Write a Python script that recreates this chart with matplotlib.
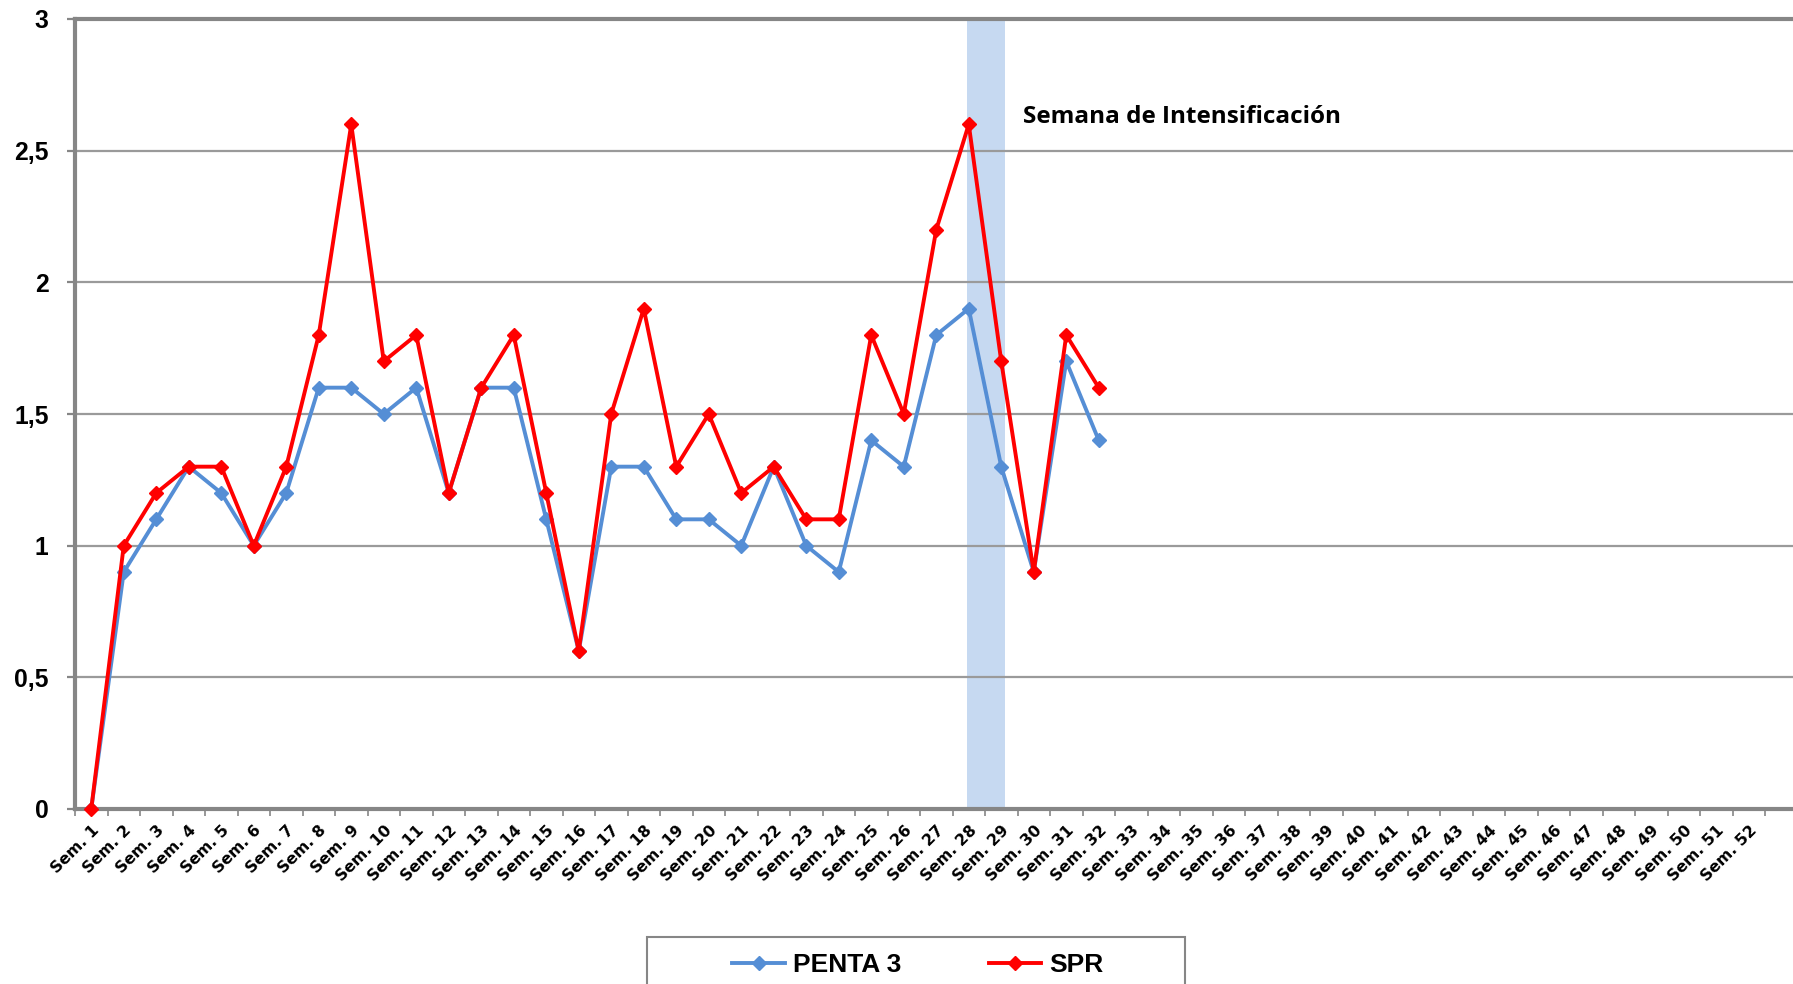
import matplotlib
matplotlib.use("Agg")
import matplotlib.pyplot as plt
import matplotlib.patches as mpatches
from matplotlib.ticker import FixedLocator, FixedFormatter

W, H = 1793, 984
BLUE = '#558ED5'
RED = '#FF0000'
BAND_COLOR = '#C6D9F1'
AXIS_GRAY = '#868686'
GRID_GRAY = '#9A9A9A'

weeks = ['Sem. %d' % i for i in range(1, 53)]
penta3 = [0, 0.9, 1.1, 1.3, 1.2, 1.0, 1.2, 1.6, 1.6, 1.5, 1.6, 1.2, 1.6, 1.6, 1.1, 0.6,
          1.3, 1.3, 1.1, 1.1, 1.0, 1.3, 1.0, 0.9, 1.4, 1.3, 1.8, 1.9, 1.3, 0.9, 1.7, 1.4]
spr = [0, 1.0, 1.2, 1.3, 1.3, 1.0, 1.3, 1.8, 2.6, 1.7, 1.8, 1.2, 1.6, 1.8, 1.2, 0.6,
       1.5, 1.9, 1.3, 1.5, 1.2, 1.3, 1.1, 1.1, 1.8, 1.5, 2.2, 2.6, 1.7, 0.9, 1.8, 1.6]
y_ticks = [0, 0.5, 1, 1.5, 2, 2.5, 3]
y_tick_labels = ['0', '0,5', '1', '1,5', '2', '2,5', '3']
band_weeks = (27.95, 29.1)  # Sem. 28 - Sem. 29, 1-based
band_label = 'Semana de Intensificación'

fig = plt.figure(figsize=(W / 100, H / 100), dpi=100)
ax = fig.add_axes((75 / W, (H - 809) / H, (W - 75) / W, 790 / H))

x = list(range(len(weeks)))
ax.axvspan(band_weeks[0] - 1, band_weeks[1] - 1, color=BAND_COLOR, lw=0, zorder=1)
ax.plot(x[:len(penta3)], penta3, color=BLUE, lw=2.8, marker='D', ms=7.5,
        label='PENTA 3', zorder=3)
ax.plot(x[:len(spr)], spr, color=RED, lw=2.8, marker='D', ms=7.5,
        label='SPR', zorder=4, clip_on=False)

ax.set_xlim(-0.5, -0.5 + (W - 75) / 32.5)
ax.set_ylim(0, 3)

ax.yaxis.set_major_locator(FixedLocator(y_ticks))
ax.yaxis.set_major_formatter(FixedFormatter(y_tick_labels))
ax.grid(axis='y', color=GRID_GRAY, lw=1.6)

ax.xaxis.set_major_locator(FixedLocator([i - 0.5 for i in range(len(weeks) + 1)]))
ax.xaxis.set_major_formatter(FixedFormatter([''] * (len(weeks) + 1)))
ax.xaxis.set_minor_locator(FixedLocator(x))
ax.xaxis.set_minor_formatter(FixedFormatter(weeks))
ax.tick_params(axis='x', which='major', length=5, width=1.2, color=AXIS_GRAY)
ax.tick_params(axis='x', which='minor', length=0, pad=10)
ax.tick_params(axis='y', length=6, width=1.6, color=AXIS_GRAY, pad=13, labelsize=17.8)
for lab in ax.get_xticklabels(minor=True):
    lab.set_rotation(45)
    lab.set_ha('right')
    lab.set_va('top')
    lab.set_rotation_mode('anchor')
    lab.set_fontsize(11.3)
    lab.set_fontweight('bold')
    lab.set_fontfamily('DejaVu Sans')
for lab in ax.get_yticklabels():
    lab.set_fontweight('bold')
    lab.set_fontfamily('Liberation Sans')

for side in ['left', 'bottom', 'top']:
    ax.spines[side].set_color(AXIS_GRAY)
    ax.spines[side].set_linewidth(3)
ax.spines['right'].set_visible(False)

ax.text(28.67, 2.628, band_label, fontsize=17.5, fontweight='bold',
        family='Open Sans', va='center', ha='left', zorder=5)

# legend frame, cut by the bottom of the picture
fig.patches.append(mpatches.Rectangle((647 / W, -0.02), 538 / W, (H - 937) / H + 0.02,
                                      transform=fig.transFigure, fill=False,
                                      edgecolor=AXIS_GRAY, lw=1.5))
fig.legend(loc='center', bbox_to_anchor=(918 / W, 1 - 965 / H), ncol=2, frameon=False,
           prop={'family': 'Liberation Sans', 'weight': 'bold', 'size': 19},
           handlelength=2.0, handletextpad=0.3, columnspacing=3.3, markerscale=1.0)

fig.savefig('out.png', dpi=100)
